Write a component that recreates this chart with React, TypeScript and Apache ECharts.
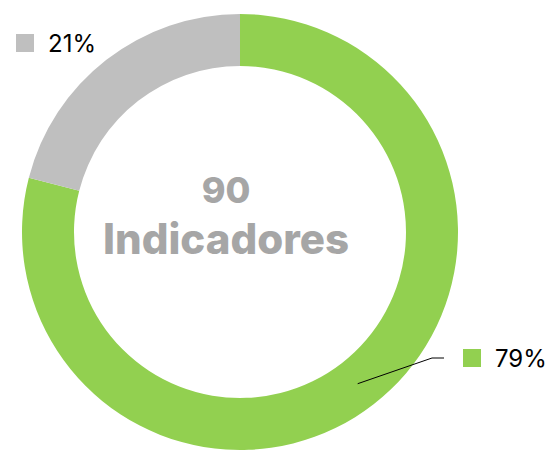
import React, { useEffect, useRef } from "react";
import * as echarts from "echarts";

const categories = ["Cumplidos", "No cumplidos"];
const values = [79, 21];
const colors = ["#92D050", "#BFBFBF"];
const centerNumber = "90";
const centerLabel = "Indicadores";

const FONT = "Inter, 'Noto Sans', sans-serif";

export default function App() {
  const ref = useRef<HTMLDivElement>(null);
  useEffect(() => {
    if (!ref.current) return;
    const chart = echarts.init(ref.current, null, { renderer: "svg" });
    const cx = 240;
    const cy = 232;
    const rIn = 166;
    const rOut = 218;
    const total = values.reduce((a, b) => a + b, 0);
    // mid angle (clockwise from top) of first slice
    const midAng = (values[0] / total / 2) * Math.PI * 2;
    const rMid = (rIn + rOut) / 2;
    const sx = cx + Math.sin(midAng) * rMid;
    const sy = cy - Math.cos(midAng) * rMid;

    const data = categories.map((name, i) => ({
      name,
      value: values[i],
      itemStyle: { color: colors[i] },
      label: {
        rich: {
          m: { width: 18, height: 18, backgroundColor: colors[i] },
        },
      },
    }));

    chart.setOption({
      animation: false,
      backgroundColor: "#ffffff",
      graphic: [
        {
          type: "text",
          x: 226,
          y: 190,
          z: 100,
          style: {
            text: centerNumber,
            font: `800 36px ${FONT}`,
            fill: "#A6A6A6",
            align: "center",
            verticalAlign: "middle",
          },
        },
        {
          type: "text",
          x: 226,
          y: 238,
          z: 100,
          style: {
            text: centerLabel,
            font: `800 42px ${FONT}`,
            fill: "#A6A6A6",
            align: "center",
            verticalAlign: "middle",
          },
        },
        {
          type: "polyline",
          z: 100,
          shape: {
            points: [
              [sx, sy],
              [432, 358],
              [444, 358],
            ],
          },
          style: { stroke: "#000000", lineWidth: 1, fill: "none" },
        },
      ],
      series: [
        {
          type: "pie",
          center: [cx, cy],
          radius: [rIn, rOut],
          startAngle: 90,
          clockwise: true,
          avoidLabelOverlap: false,
          itemStyle: { borderWidth: 0 },
          emphasis: { disabled: true },
          label: {
            show: true,
            position: "outside",
            formatter: "{m|}{t|{c}%}",
            rich: {
              t: {
                fontFamily: FONT,
                fontSize: 24,
                color: "#000000",
                padding: [0, 0, 0, 14],
              },
            },
          },
          labelLine: { show: false },
          labelLayout: (params: any) => {
            if (params.dataIndex === 0) {
              return { x: 463, y: 358, align: "left", verticalAlign: "middle" };
            }
            return { x: 16, y: 43, align: "left", verticalAlign: "middle" };
          },
          data,
        },
      ],
    });
    return () => chart.dispose();
  }, []);
  return (
    <div
      ref={ref}
      style={{ position: "fixed", left: 0, top: 0, width: 555, height: 454 }}
    />
  );
}
